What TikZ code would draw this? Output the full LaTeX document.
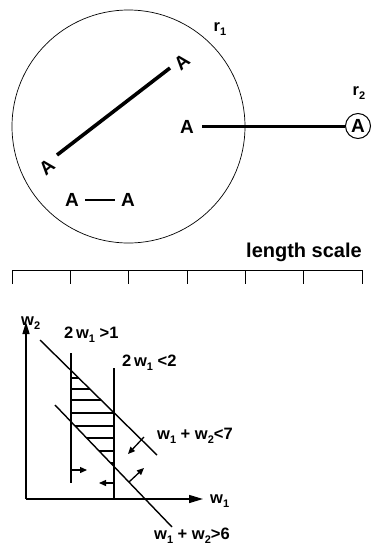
\documentclass[tikz,border=0pt]{standalone}
\usepackage{fontspec}
\setmainfont{Liberation Sans}
\usetikzlibrary{arrows.meta}
\newcommand\lowsub[1]{\raisebox{-0.5ex}{\fontsize{11}{11}\selectfont #1}}
\begin{document}
\begin{tikzpicture}[x=1pt,y=-1pt,
  bigA/.style={font=\fontsize{19}{19}\selectfont\bfseries, inner sep=0pt},
  glab/.style={font=\fontsize{16.5}{16.5}\selectfont\bfseries, inner sep=0pt, anchor=west},
  thin line/.style={line width=0.7pt},
  gline/.style={line width=1.4pt},
  smallarrow/.style={line width=1.3pt, -{Triangle[length=7pt,width=6pt]}},
]
\useasboundingbox (0,0) rectangle (374,547);

% big circle r1
\node[draw, circle, thin line, minimum size=233pt, inner sep=0pt] (c1) at (128.5,126.5) {};
\node[glab, anchor=center] (r1) at (220,29) {r\lowsub{1}};
\node[glab, anchor=center] (r2) at (359,93) {r\lowsub{2}};

% diagonal pair
\node[bigA, rotate=40] (a1) at (47,167) {A};
\node[bigA, rotate=40] (a2) at (182,62) {A};
\coordinate (d1) at (57,155);
\coordinate (d2) at (170,68);
\draw[line width=3.6pt] (d1) -- (d2);

% horizontal pair
\node[bigA] (a3) at (187,127) {A};
\node[bigA, draw, circle, line width=1pt, minimum size=25pt] (a4) at (358,126) {A};
\coordinate (h1) at (202,126);
\draw[line width=3pt] (h1) -- (a4.west);

% short pair
\node[bigA] (a5) at (72,200) {A};
\node[bigA] (a6) at (128,200) {A};
\draw[line width=2.2pt] (85,200) -- (115,200);

% length scale
\node[font=\fontsize{20}{20}\selectfont\bfseries, inner sep=0pt] (ls) at (304,252) {length scale};
\draw[line width=0.9pt] (12,284) -- (12,270) -- (362,270) -- (362,284);
\foreach \x in {70.3,128.7,187,245.3,303.7}
  \draw[line width=0.9pt] (\x,270) -- (\x,284);

% graph axes
\coordinate (o) at (26,499);
\coordinate (ytip) at (26,322);
\coordinate (xtip) at (203,499);
\draw[gline, -{Triangle[length=12pt,width=7pt]}] (o) -- (ytip);
\draw[gline, -{Triangle[length=14pt,width=8pt]}] (o) -- (xtip);
\node[glab] (w2) at (21,323) {w\lowsub{2}};
\node[glab] (w1) at (210,501) {w\lowsub{1}};

% constraint lines
\coordinate (v1a) at (71,353);
\coordinate (v1b) at (71,483);
\coordinate (v2a) at (114,368);
\coordinate (v2b) at (114,499);
\draw[gline] (v1a) -- (v1b);
\draw[gline] (v2a) -- (v2b);
\coordinate (u1) at (40,340);
\coordinate (u2) at (157,455);
\coordinate (l1) at (55,405);
\coordinate (l2) at (172,527);
\draw[gline] (u1) -- (u2);
\draw[gline] (l1) -- (l2);

% hatching
\begin{scope}
  \clip (71,370.5) -- (114,412.7) -- (114,466.5) -- (71,421.7) -- cycle;
  \foreach \y in {378,389,400,413,426,438,451,463}
    \draw[gline] (71,\y) -- (114,\y);
\end{scope}

% direction arrows
\draw[smallarrow] (71,470) -- (87,470);
\draw[smallarrow] (114,483) -- (99,483);
\draw[smallarrow] (144,437) -- (128,454);
\draw[smallarrow] (129,482) -- (144,468);

% labels
\node[glab] (c2a) at (64,335) {2\,w\lowsub{1} >1};
\node[glab] (c2b) at (122,363) {2\,w\lowsub{1} <2};
\node[glab] (c3) at (157,436) {w\lowsub{1} + w\lowsub{2}<7};
\node[glab] (c4) at (154,536) {w\lowsub{1} + w\lowsub{2}>6};
\end{tikzpicture}
\end{document}
